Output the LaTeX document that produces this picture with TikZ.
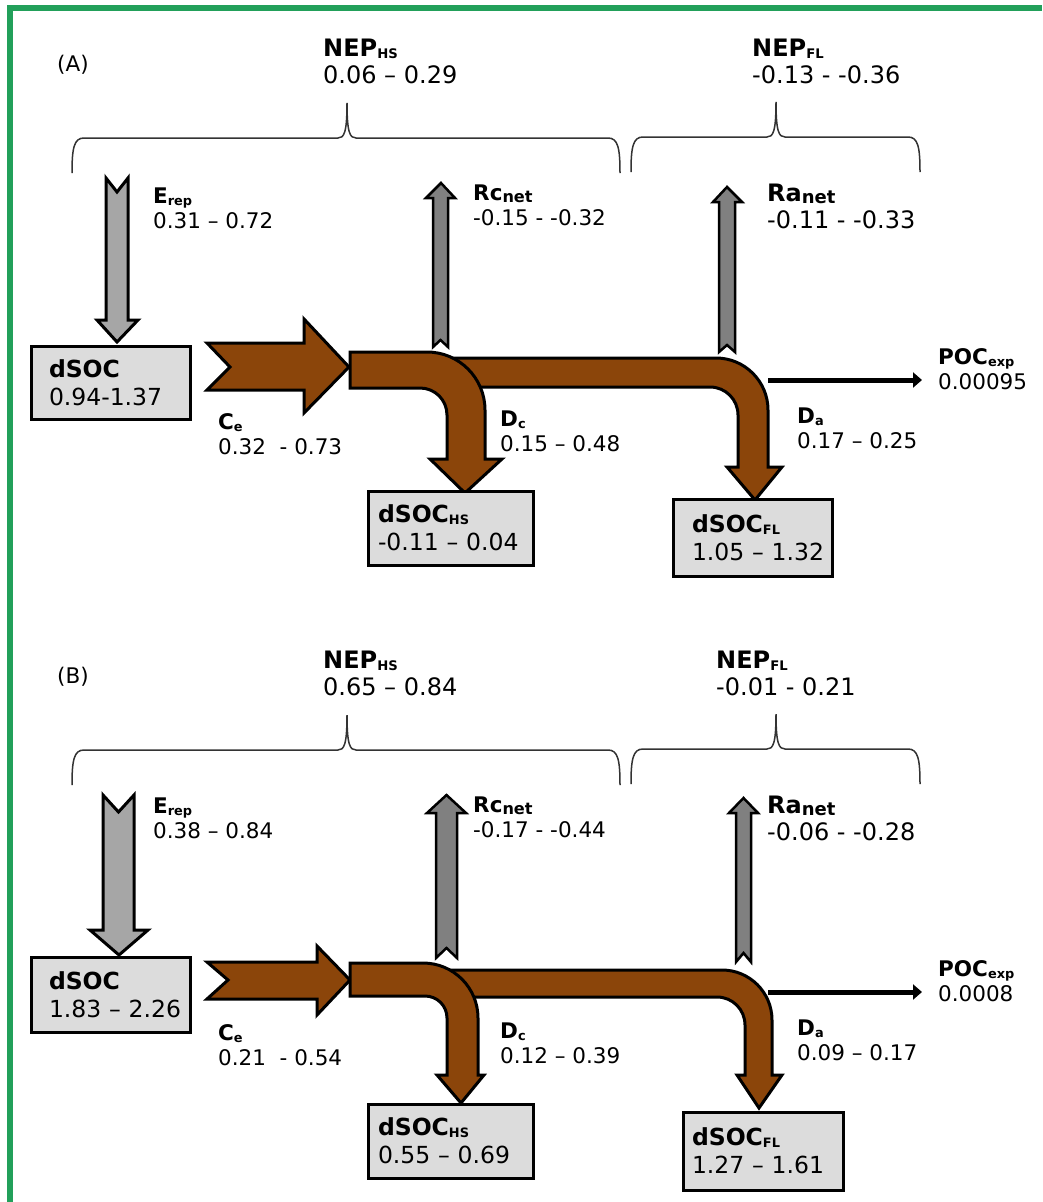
\documentclass[tikz,border=0pt]{standalone}
\usepackage{fontspec}
\setmainfont{DejaVu Sans}
\usepackage{graphicx}
\usetikzlibrary{arrows.meta}
\definecolor{framegreen}{RGB}{34,160,90}
\definecolor{soilbrown}{RGB}{139,69,10}
\definecolor{poolgray}{RGB}{220,220,220}
\definecolor{inputgray}{RGB}{166,166,166}
\definecolor{lossgray}{RGB}{128,128,128}
\newcommand\nepfont{\fontsize{24}{27}\selectfont}
\newcommand\flowfont{\fontsize{21.5}{25}\selectfont}
\newcommand\poolfont{\fontsize{23.5}{28}\selectfont}
\newcommand\lblsub[2][0.6]{\raisebox{-2pt}{\scalebox{#1}{#2}}}
% brace: left end, right end, tip, height of the bar
\newcommand\nepbrace[4]{%
  \draw[brace line] (#1,#4+35) .. controls (#1,#4+10) and (#1+2,#4) .. (#1+12,#4)
    -- (#3-9,#4) .. controls (#3-3,#4) and (#3,#4-5) .. (#3,#4-35)
    .. controls (#3,#4-5) and (#3+3,#4) .. (#3+9,#4)
    -- (#2-12,#4) .. controls (#2-2,#4) and (#2,#4+10) .. (#2,#4+35);}
\tikzset{
  frame line/.style={framegreen, line width=6pt},
  brace line/.style={black!80, line width=1.5pt},
  pool box/.style={
      draw=black, fill=poolgray, line width=3pt,
      align=left, font=\poolfont
    },
  flow label/.style={
      anchor=north west, inner sep=0pt,
      align=left, font=\flowfont
    },
  nep label/.style={flow label, font=\nepfont},
  carbon flow/.style={draw=black, fill=soilbrown, line width=3pt},
  input flow/.style={draw=black, fill=inputgray, line width=3pt},
  loss flow/.style={draw=black, fill=lossgray, line width=2.5pt},
  export arrow/.style={
      line width=5pt, shorten >=16pt,
        -{Triangle[length=9pt,width=15pt]}
    }
}
\begin{document}
\begin{tikzpicture}[x=1pt, y=-1pt]
  \useasboundingbox (0,0) rectangle (1042,1202);
  \draw[frame line] (10,1202) -- (10,8) -- (1042,8);

  % ------------------------------------------------------------------
  % (A)
  % ------------------------------------------------------------------
  \node[flow label] (panelA) at (57,55) {(A)};

  \node[nep label] (nephsA) at (323,38.5) {\textbf{NEP\lblsub[0.55]{HS}}\\0.06 -- 0.29};
  \node[nep label] (nepflA) at (752,38.5) {\textbf{NEP\lblsub[0.55]{FL}}\\-0.13 - -0.36};
  \nepbrace{72}{620}{347}{138}
  \nepbrace{631}{920}{776}{137}

  \draw[input flow] (106,178) -- (117,192) -- (128,178) -- (128,320) -- (138,320)
    -- (117,342) -- (97,320) -- (106,320) -- cycle;
  \node[flow label] (erepA) at (153,187.3) {\textbf{E\lblsub{rep}}\\0.31 -- 0.72};

  \node[pool box, text width=123pt, inner xsep=18pt, minimum height=73pt]
    (socA) at (110.5,382.5) {\textbf{dSOC}\\\mbox{0.94-1.37}};

  \draw[carbon flow] (207,343) -- (304,343) -- (304,319) -- (349,367) -- (304,413)
    -- (304,390) -- (207,390) -- (230,367) -- cycle;
  \node[flow label] (ceA) at (218,413.3) {\textbf{C\lblsub{e}}\\0.32~~- 0.73};

  \draw[loss flow] (433,347) -- (433,198) -- (426,198) -- (441,183) -- (455,198)
    -- (448,198) -- (448,347) -- (440.5,340) -- cycle;
  \node[flow label] (rcA) at (473,184.3) {\textbf{Rc\lblsub[0.75]{net}}\\-0.15 - -0.32};

  \draw[loss flow] (719,352) -- (719,202) -- (713,202) -- (727,187) -- (742,202)
    -- (735,202) -- (735,352) -- (727,345) -- cycle;
  \node[nep label] (raA) at (767,183.5) {\textbf{Ra\lblsub[0.75]{net}}\\-0.11 - -0.33};

  % floodplain branch first, hillslope branch over it
  \draw[carbon flow] (450,358) -- (716,358) .. controls (744.7,358) and (768,381.3) .. (768,410)
    -- (768,467) -- (782,467) -- (755,500) -- (727,467) -- (738,467)
    -- (738,415) .. controls (738,399.5) and (725.5,387) .. (710,387) -- (450,387) -- cycle;
  \draw[carbon flow] (350,352) -- (427,352) .. controls (459,352) and (485,378) .. (485,410)
    -- (485,459) -- (502,459) -- (465,493) -- (430,459) -- (447,459)
    -- (447,415) .. controls (447,400) and (435,388) .. (420,388) -- (350,388) -- cycle;
  \node[flow label] (dcA) at (500,410.3) {\textbf{D\lblsub{c}}\\0.15 -- 0.48};
  \node[flow label] (daA) at (797,407.3) {\textbf{D\lblsub{a}}\\0.17 -- 0.25};

  \node[pool box, text width=145pt, inner xsep=10pt, minimum height=74pt]
    (hsA) at (450.5,528) {\textbf{dSOC\lblsub[0.55]{HS}}\\\mbox{-0.11 -- 0.04}};
  \node[pool box, text width=121pt, inner xsep=19pt, minimum height=77pt]
    (flA) at (752.5,537.5) {\textbf{dSOC\lblsub[0.55]{FL}}\\\mbox{1.05 -- 1.32}};

  \coordinate (pocstartA) at (768,380);
  \node[flow label] (pocA) at (938,348.3) {\textbf{POC\lblsub{exp}}\\0.00095};
  \draw[export arrow] (pocstartA) -- (pocstartA -| pocA.west);

  % ------------------------------------------------------------------
  % (B)
  % ------------------------------------------------------------------
  \node[flow label] (panelB) at (57,667) {(B)};

  \node[nep label] (nephsB) at (323,650.5) {\textbf{NEP\lblsub[0.55]{HS}}\\0.65 -- 0.84};
  \node[nep label] (nepflB) at (716,650.5) {\textbf{NEP\lblsub[0.55]{FL}}\\-0.01 - 0.21};
  \nepbrace{72}{620}{347}{750}
  \nepbrace{631}{920}{776}{749}

  \draw[input flow] (103,795) -- (118.5,812) -- (134,795) -- (134,930) -- (148,930)
    -- (119,955) -- (90,930) -- (103,930) -- cycle;
  \node[flow label] (erepB) at (153,797.3) {\textbf{E\lblsub{rep}}\\0.38 -- 0.84};

  \node[pool box, text width=123pt, inner xsep=18pt, minimum height=75pt]
    (socB) at (110.5,994.5) {\textbf{dSOC}\\\mbox{1.83 -- 2.26}};

  \draw[carbon flow] (207,962) -- (317,962) -- (317,946) -- (350,980) -- (317,1015)
    -- (317,999) -- (207,999) -- (228,980) -- cycle;
  \node[flow label] (ceB) at (218,1024.3) {\textbf{C\lblsub{e}}\\0.21~~- 0.54};

  \draw[loss flow] (436,958) -- (436,813) -- (427,813) -- (446.5,795) -- (466,813)
    -- (457,813) -- (457,958) -- (446.5,948) -- cycle;
  \node[flow label] (rcB) at (473,796.3) {\textbf{Rc\lblsub[0.75]{net}}\\-0.17 - -0.44};

  \draw[loss flow] (736,962) -- (736,813) -- (729,813) -- (743.5,798) -- (758,813)
    -- (751,813) -- (751,962) -- (743.5,953) -- cycle;
  \node[nep label] (raB) at (767,795.5) {\textbf{Ra\lblsub[0.75]{net}}\\-0.06 - -0.28};

  \draw[carbon flow] (445,970) -- (722,970) .. controls (749.6,970) and (772,992.4) .. (772,1020)
    -- (772,1075) -- (782,1075) -- (759,1108) -- (737,1075) -- (745,1075)
    -- (745,1025) .. controls (745,1009.5) and (732.5,997) .. (717,997) -- (445,997) -- cycle;
  \draw[carbon flow] (350,963) -- (423,963) .. controls (453.4,963) and (478,987.6) .. (478,1018)
    -- (478,1075) -- (484,1075) -- (461,1103) -- (437,1075) -- (447,1075)
    -- (447,1018) .. controls (447,1005.8) and (437.2,996) .. (425,996) -- (350,996) -- cycle;
  \node[flow label] (dcB) at (500,1022.3) {\textbf{D\lblsub{c}}\\0.12 -- 0.39};
  \node[flow label] (daB) at (797,1019.3) {\textbf{D\lblsub{a}}\\0.09 -- 0.17};

  \node[pool box, text width=145pt, inner xsep=10pt, minimum height=74pt]
    (hsB) at (450.5,1141) {\textbf{dSOC\lblsub[0.55]{HS}}\\\mbox{0.55 -- 0.69}};
  \node[pool box, text width=142pt, inner xsep=9pt, minimum height=78pt]
    (flB) at (763,1151) {\textbf{dSOC\lblsub[0.55]{FL}}\\\mbox{1.27 -- 1.61}};

  \coordinate (pocstartB) at (768,992);
  \node[flow label] (pocB) at (938,960.3) {\textbf{POC\lblsub{exp}}\\0.0008};
  \draw[export arrow] (pocstartB) -- (pocstartB -| pocB.west);

\end{tikzpicture}
\end{document}
